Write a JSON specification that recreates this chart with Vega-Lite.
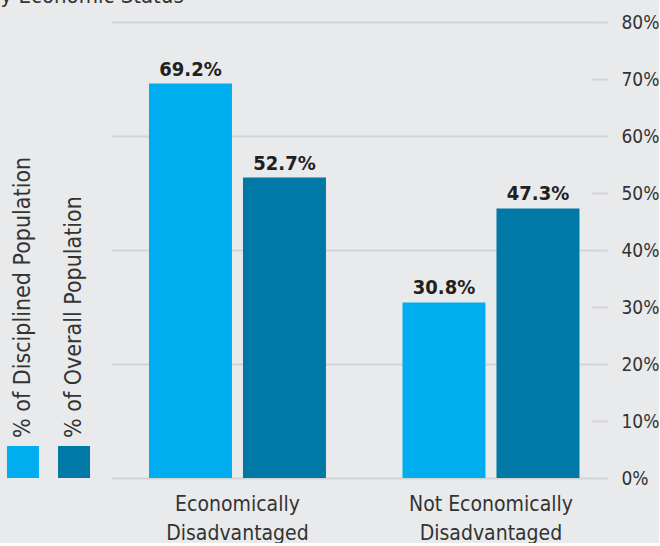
{
  "$schema": "https://vega.github.io/schema/vega-lite/v6.json",
  "background": "#e9eaec",
  "padding": {"left": -12, "top": -15, "right": 0, "bottom": 0},
  "title": {"text": "by Economic Status", "anchor": "start", "dx": -12, "offset": 5, "fontSize": 22, "fontWeight": "normal", "font": "DejaVu Sans Condensed, sans-serif", "color": "#333333"},
  "datasets": {
    "bars": [
      {"group": "Economically Disadvantaged", "series": "% of Disciplined Population", "value": 0.692},
      {"group": "Economically Disadvantaged", "series": "% of Overall Population", "value": 0.527},
      {"group": "Not Economically Disadvantaged", "series": "% of Disciplined Population", "value": 0.308},
      {"group": "Not Economically Disadvantaged", "series": "% of Overall Population", "value": 0.473}
    ],
    "legend": [
      {"series": "% of Disciplined Population"},
      {"series": "% of Overall Population"}
    ]
  },
  "spacing": 14,
  "hconcat": [
    {
      "width": 97,
      "height": 456,
      "data": {"name": "legend"},
      "encoding": {
        "x": {"field": "series", "type": "nominal", "scale": {"type": "point", "padding": 0.45, "domain": ["% of Disciplined Population", "% of Overall Population"]}, "axis": null},
        "y": {"datum": 0, "type": "quantitative", "scale": {"domain": [0, 0.8], "nice": false}, "axis": null}
      },
      "layer": [
        {
          "mark": {"type": "square", "size": 1024, "opacity": 1, "filled": true, "yOffset": -16},
          "encoding": {
            "color": {"field": "series", "type": "nominal", "scale": {"domain": ["% of Disciplined Population", "% of Overall Population"], "range": ["#00aeef", "#0079a6"]}, "legend": null}
          }
        },
        {
          "mark": {"type": "text", "angle": 270, "align": "left", "baseline": "middle", "yOffset": -40, "fontSize": 23, "font": "DejaVu Sans Condensed, sans-serif", "color": "#333333"},
          "encoding": {"text": {"field": "series", "type": "nominal"}}
        }
      ]
    },
    {
      "width": 481,
      "height": 456,
      "data": {"name": "bars"},
      "encoding": {
        "x": {
          "field": "group", "type": "nominal",
          "scale": {"paddingInner": 0.3018, "paddingOuter": 0.0996, "align": 0.752},
          "axis": {
            "orient": "bottom", "title": null, "domain": false, "ticks": false, "grid": false, "labelAngle": 0,
            "labelFontSize": 21, "labelFont": "DejaVu Sans Condensed, sans-serif", "labelColor": "#333333",
            "labelPadding": 15, "labelLineHeight": 29, "labelLimit": 400,
            "labelExpr": "datum.label == 'Economically Disadvantaged' ? ['Economically', 'Disadvantaged'] : ['Not Economically', 'Disadvantaged']"
          }
        },
        "xOffset": {"field": "series", "type": "nominal", "scale": {"paddingInner": 0.117, "paddingOuter": 0}},
        "y": {
          "field": "value", "type": "quantitative",
          "scale": {"domain": [0, 0.8], "nice": false},
          "axis": {
            "orient": "right", "title": null, "domain": false,
            "values": [0, 0.1, 0.2, 0.3, 0.4, 0.5, 0.6, 0.7, 0.8],
            "format": ".0%",
            "tickSize": 15, "tickWidth": 2, "tickColor": "#d2d3d5",
            "grid": true, "gridWidth": 2, "gridColor": "#d2d3d5",
            "gridOpacity": {"condition": {"test": "round(datum.value * 100) % 20 !== 0", "value": 0}, "value": 1},
            "labelPadding": 14, "labelFontSize": 19,
            "labelFont": "DejaVu Sans Condensed, sans-serif", "labelColor": "#333333"
          }
        }
      },
      "layer": [
        {
          "mark": {"type": "bar"},
          "encoding": {
            "color": {"field": "series", "type": "nominal", "scale": {"domain": ["% of Disciplined Population", "% of Overall Population"], "range": ["#00aeef", "#0079a6"]}, "legend": null}
          }
        },
        {
          "mark": {"type": "text", "baseline": "alphabetic", "dy": -8, "fontSize": 20, "fontWeight": "bold", "font": "DejaVu Sans Condensed, sans-serif", "color": "#231f20"},
          "encoding": {"text": {"field": "value", "type": "quantitative", "format": ".1%"}}
        }
      ]
    }
  ],
  "config": {
    "view": {"stroke": null}
  }
}
